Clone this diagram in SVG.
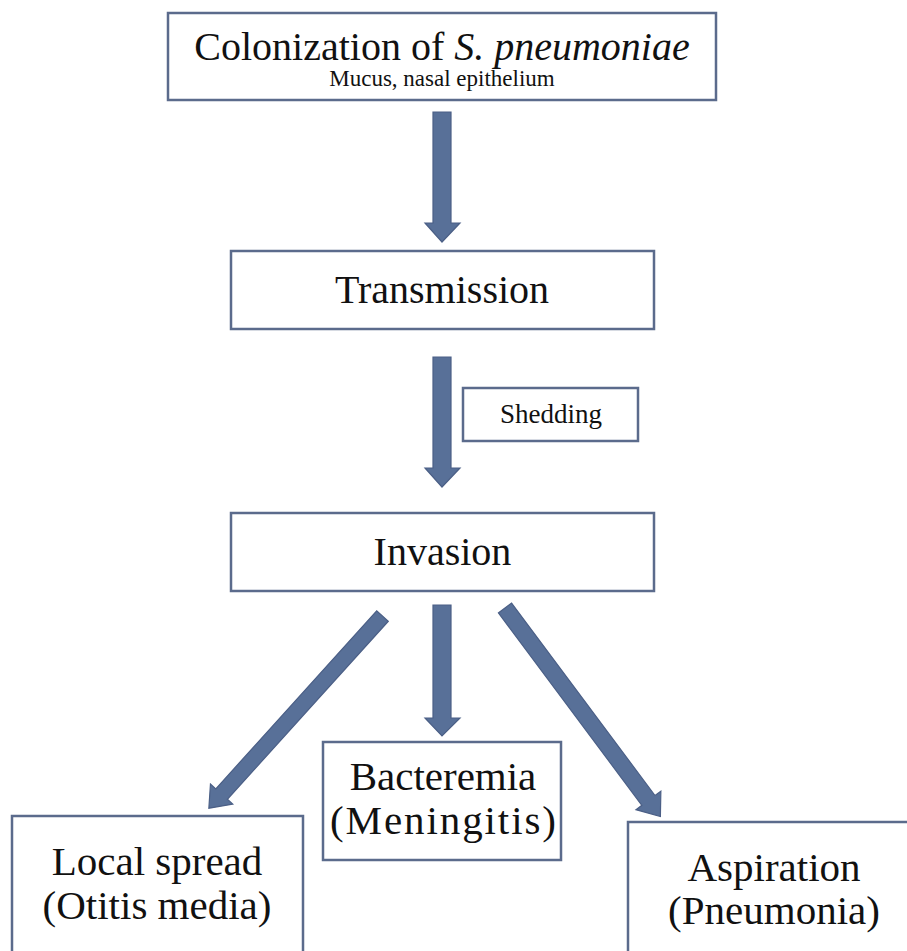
<svg xmlns="http://www.w3.org/2000/svg" width="907" height="951" viewBox="0 0 907 951">
<style>
.box{fill:#ffffff;stroke:#5b6b8c;stroke-width:2.5}
.arr{fill:#587098;stroke:#4b5f86;stroke-width:1.2}
text{font-family:"Liberation Serif","DejaVu Serif",serif;fill:#111;text-anchor:middle}
.big{font-size:40px}
.bot{font-size:41px}
.sm{font-size:23px}
.md{font-size:27px}
</style>
<rect width="907" height="951" fill="#ffffff"/>
<g id="colonization">
<rect class="box" x="168" y="13" width="548" height="87"/>
<text class="big" x="442" y="60">Colonization of <tspan font-style="italic">S. pneumoniae</tspan></text>
<text class="sm" x="442" y="86">Mucus, nasal epithelium</text>
</g>
<g id="transmission">
<rect class="box" x="231" y="251" width="423" height="78"/>
<text class="big" x="442" y="303">Transmission</text>
</g>
<g id="shedding">
<rect class="box" x="463" y="388" width="175" height="53"/>
<text class="md" x="551" y="423">Shedding</text>
</g>
<g id="invasion">
<rect class="box" x="231" y="513" width="423" height="78"/>
<text class="big" x="442.5" y="565">Invasion</text>
</g>
<g id="bacteremia">
<rect class="box" x="323" y="742" width="238" height="118"/>
<text class="bot" x="443" y="790">Bacteremia</text>
<text class="bot" x="443" y="834" textLength="226" lengthAdjust="spacing">(Meningitis)</text>
</g>
<g id="local-spread">
<rect class="box" x="12" y="816" width="291" height="145"/>
<text class="bot" x="157" y="875">Local spread</text>
<text class="bot" x="157" y="919">(Otitis media)</text>
</g>
<g id="aspiration">
<rect class="box" x="628" y="822" width="290" height="140"/>
<text class="bot" x="774" y="881">Aspiration</text>
<text class="bot" x="774" y="924">(Pneumonia)</text>
</g>
<g id="connectors">
<polygon class="arr" points="433,112 451,112 451,223 460,223 442,242 425,223 433,223"/>
<polygon class="arr" points="433,357 451,357 451,468 460,468 442,487 425,468 433,468"/>
<polygon class="arr" points="433,605 451,605 451,718 460,718 442,736 425,718 433,718"/>
<polygon class="arr" transform="translate(382.5,616) rotate(132.1)" points="0,-7.8 240,-7.8 240,-15 259,0 240,15 240,7.8 0,7.8"/>
<polygon class="arr" transform="translate(505,608) rotate(53.3)" points="0,-8.2 240,-8.2 240,-15.5 260,0 240,15.5 240,8.2 0,8.2"/>
</g>
</svg>
